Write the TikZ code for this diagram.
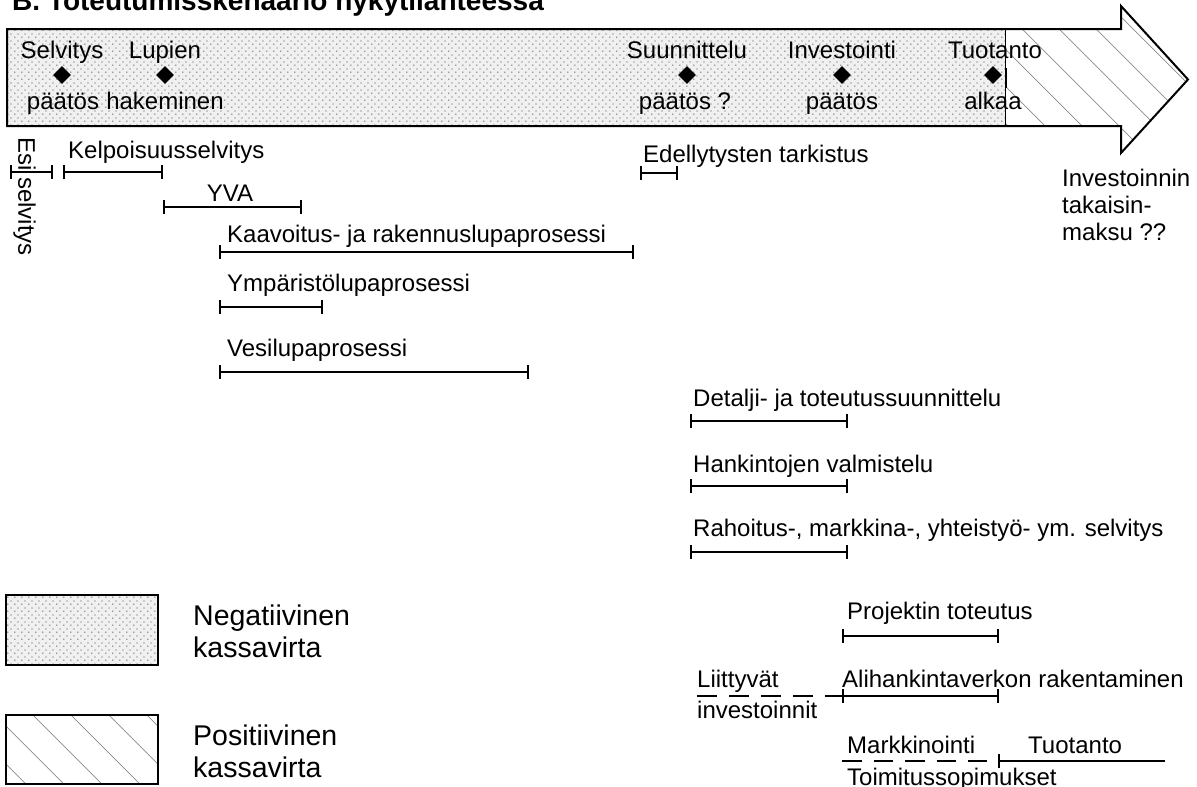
\documentclass[tikz,border=0pt]{standalone}
\usepackage{fontspec}
\setmainfont{Liberation Sans}
\usetikzlibrary{shapes.geometric,arrows.meta,patterns.meta}
\tikzdeclarepattern{
  name=finedots,
  type=uncolored,
  bottom left={(0pt,0pt)},
  top right={(7pt,7pt)},
  tile size={(7pt,7pt)},
  code={\pgfpathcircle{\pgfpoint{1pt}{1pt}}{0.75pt}\pgfpathcircle{\pgfpoint{4.5pt}{4.5pt}}{0.75pt}\pgfusepath{fill}}
}
\begin{document}
\begin{tikzpicture}[x=1pt,y=-1pt,
  txt/.style={inner sep=0pt, font=\fontsize{24}{27}\selectfont},
  lab/.style={txt, anchor=base west},
  ctr/.style={txt, anchor=base},
  multi/.style={txt, anchor=north west, align=left},
  seg/.style={line width=1.6pt, arrows={Bar[width=14pt]-Bar[width=14pt]}},
  lseg/.style={line width=1.6pt, arrows={Bar[width=14pt]-}},
  dseg/.style={line width=1.6pt, dash pattern=on 20pt off 12pt},
  ms/.style={diamond, fill=black, inner sep=0pt, minimum width=18pt, minimum height=18pt},
  hatch/.style={black!45, line width=0.7pt},
  outline/.style={line width=2pt, line join=miter},
  dotfill/.style={fill=black!6},
  dots/.style={pattern=finedots, pattern color=black!70},
  leg/.style={inner sep=0pt, anchor=north west, align=left, font=\fontsize{28.5}{32}\selectfont}
]
\useasboundingbox (0,0) rectangle (1197,787);
\fill[white] (0,0) rectangle (1197,787);
\clip (0,0) rectangle (1197,787);

% title (cut at top)
\node[inner sep=0pt, anchor=base west, font=\bfseries\fontsize{28}{32}\selectfont] (title) at (12,10) {B. Toteutumisskenaario nykytilanteessa};

% big arrow
\fill[dotfill] (7,29) rectangle (1005,126);
\fill[dots] (7,29) rectangle (1005,126);
\begin{scope}
  \clip (1005,29) -- (1121,29) -- (1121,6) -- (1188,79.5) -- (1121,153) -- (1121,126) -- (1005,126) -- cycle;
  \foreach \c in {882,919,956,993,1030,1067,1104,1141,1178}
    \draw[hatch] (\c,0) -- ++(200,200);
\end{scope}
\draw[line width=1pt] (1005,29) -- (1005,126);
\draw[line width=2pt] (1006,68) -- (1006,88);
\draw[outline] (7,29) -- (1121,29) -- (1121,6) -- (1188,79.5) -- (1121,153) -- (1121,126) -- (7,126) -- cycle;

% milestones
\node[ms] (m1) at (62,75) {};
\node[ms] (m2) at (165,75) {};
\node[ms] (m3) at (687,75) {};
\node[ms] (m4) at (842,75) {};
\node[ms] (m5) at (993,75) {};
\node[ctr] (m1a) at (62,58.5) {Selvitys};
\node[ctr] (m1b) at (63,109) {päätös};
\node[ctr] (m2a) at (165,58.5) {Lupien};
\node[ctr] (m2b) at (165,109) {hakeminen};
\node[ctr] (m3a) at (687,58.5) {Suunnittelu};
\node[ctr] (m3b) at (685,109) {päätös ?};
\node[ctr] (m4a) at (842,58.5) {Investointi};
\node[ctr] (m4b) at (842,109) {päätös};
\node[ctr] (m5a) at (995,58.5) {Tuotanto};
\node[ctr] (m5b) at (993,109) {alkaa};

\node[multi] (payback) at (1062,169) {Investoinnin\\takaisin-\\maksu ??};

% phases
\node[txt, rotate=-90, anchor=west] (esi) at (24.5,137) {Esi selvitys};
\draw[seg] (10,172) -- (53,172);

\node[lab] (kelp) at (68,158) {Kelpoisuusselvitys};
\draw[seg] (63,172) -- (163,172);

\node[ctr] (yva) at (230,201) {YVA};
\draw[seg] (163,207) -- (302,207);

\node[lab] (kaav) at (227,242) {Kaavoitus- ja rakennuslupaprosessi};
\draw[seg] (219,252) -- (634,252);

\node[lab] (ymp) at (227,291) {Ympäristölupaprosessi};
\draw[seg] (219,307) -- (323,307);

\node[lab] (vesi) at (227,356) {Vesilupaprosessi};
\draw[seg] (219,372) -- (529,372);

\node[lab] (edel) at (643,162) {Edellytysten tarkistus};
\draw[seg] (640,173) -- (678,173);

\node[lab] (det) at (693,406) {Detalji- ja toteutussuunnittelu};
\draw[seg] (690,421) -- (848,421);

\node[lab] (hank) at (693,472) {Hankintojen valmistelu};
\draw[seg] (690,486) -- (848,486);

\node[lab] (rah) at (693,536) {Rahoitus-, markkina-, yhteistyö- ym. selvitys};
\draw[seg] (690,552) -- (848,552);

\node[lab] (proj) at (847,619) {Projektin toteutus};
\draw[seg] (842,636) -- (999,636);

\node[multi, font=\fontsize{24}{31}\selectfont] (liit) at (697,670) {Liittyvät\\investoinnit};
\draw[dseg] (697,696) -- (842,696);
\node[lab] (ali) at (842,687) {Alihankintaverkon rakentaminen};
\draw[seg] (842,696) -- (999,696);

\node[multi, font=\fontsize{24}{32}\selectfont] (mark) at (847,736) {Markkinointi\\Toimitussopimukset};
\draw[dseg, dash pattern=on 19.5pt off 12pt] (842,761) -- (987,761);
\node[lab] (tuot) at (1028,753) {Tuotanto};
\draw[lseg] (998,761) -- (1165,761);

% legend
\fill[dotfill] (6,595) rectangle (158,665);
\fill[dots] (6,595) rectangle (158,665);
\draw[line width=2.2pt] (6,595) rectangle (158,665);
\node[leg] (neg) at (193,605) {Negatiivinen\\kassavirta};

\begin{scope}
  \clip (6,715) rectangle (158,784);
  \foreach \c in {-796,-758,-720,-682,-644,-606,-568}
    \draw[hatch] (\c+700,700) -- ++(120,120);
\end{scope}
\draw[line width=2.2pt] (6,715) rectangle (158,784);
\node[leg] (pos) at (193,725) {Positiivinen\\kassavirta};
\end{tikzpicture}
\end{document}
